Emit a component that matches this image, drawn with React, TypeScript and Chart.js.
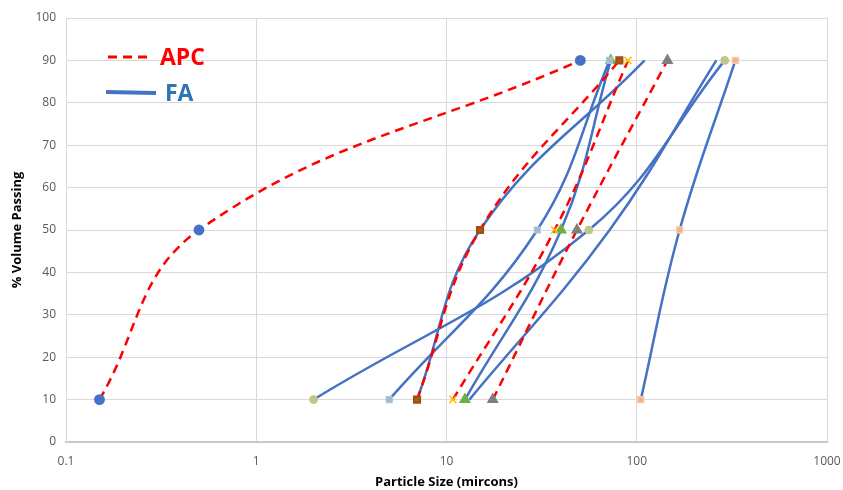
import React, { useEffect, useRef } from "react";
import { Chart, registerables } from "chart.js";
Chart.register(...registerables);

// % volume passing levels (D10, D50, D90)
const passing = [10, 50, 90];
const xTickValues = [0.1, 1, 10, 100, 1000];

// APC (red dashed) series – particle size in microns
const apcCircle = [0.15, 0.5, 50.5];
const apcSquare = [7.0, 15.0, 81];
const apcCross = [10.8, 37, 90];
const apcTriangle = [17.5, 48.5, 145];

// FA (blue solid) series – particle size in microns
const faCircle = [2.0, 56, 290];
const faSquare = [5.0, 30, 72];
const faPlain1 = [7.0, 15.0, 110];
const faTriangle = [12.5, 40, 73];
const faPlain2 = [13.2, 72, 262];
const faPink = [105, 168, 330];

const RED = "#FF0000";
const BLUE = "#4472C4";

export default function App() {
  const ref = useRef<HTMLCanvasElement>(null);

  useEffect(() => {
    if (!ref.current) return;
    const pts = (xs: number[]) => xs.map((x, i) => ({ x, y: passing[i] }));
    const red = (xs: number[], marker: any) => ({
      data: pts(xs),
      showLine: true,
      borderColor: RED,
      borderWidth: 2.5,
      borderDash: [9, 6],
      tension: 0.4,
      ...marker,
    });
    const blue = (xs: number[], marker: any) => ({
      data: pts(xs),
      showLine: true,
      borderColor: BLUE,
      borderWidth: 2.5,
      tension: 0.4,
      ...marker,
    });

    const legendPlugin = {
      id: "customLegend",
      afterDatasetsDraw(chart: any) {
        const ctx = chart.ctx;
        ctx.save();
        ctx.strokeStyle = RED;
        ctx.lineWidth = 3;
        ctx.setLineDash([9, 6]);
        ctx.beginPath();
        ctx.moveTo(108, 57);
        ctx.lineTo(150, 57);
        ctx.stroke();
        ctx.setLineDash([]);
        ctx.strokeStyle = BLUE;
        ctx.lineWidth = 4;
        ctx.beginPath();
        ctx.moveTo(106, 92);
        ctx.lineTo(156, 93);
        ctx.stroke();
        ctx.font = "bold 23px 'Open Sans', sans-serif";
        ctx.textBaseline = "middle";
        ctx.fillStyle = RED;
        ctx.fillText("APC", 160, 58);
        ctx.fillStyle = "#2E75B6";
        ctx.fillText("FA", 165, 94);
        ctx.restore();
      },
    };

    const tickFont = { family: "'Open Sans', sans-serif", size: 12 };
    const titleFont = { family: "'Open Sans', sans-serif", size: 13, weight: "bold" as const };

    const chart = new Chart(ref.current, {
      type: "scatter",
      data: {
        datasets: [
          red(apcCircle, { pointStyle: "circle", pointRadius: 4.2, pointBackgroundColor: BLUE, pointBorderColor: BLUE }),
          red(apcSquare, { pointStyle: "rect", pointRadius: 4, pointBackgroundColor: "#B45A1A", pointBorderColor: "#A0500F" }),
          red(apcCross, { pointStyle: "crossRot", pointRadius: 5, pointBorderColor: "#FFC000", pointBorderWidth: 1.5 }),
          red(apcTriangle, { pointStyle: "triangle", pointRadius: 4.5, pointBackgroundColor: "#7F7F7F", pointBorderColor: "#7F7F7F" }),
          blue(faCircle, { pointStyle: "circle", pointRadius: 4, pointBackgroundColor: "#A9D18E", pointBorderColor: "#F4B183", pointBorderWidth: 1 }),
          blue(faSquare, { pointStyle: "rect", pointRadius: 4, pointBackgroundColor: "#B4B4B4", pointBorderColor: "#9DC3E6", pointBorderWidth: 1.5 }),
          blue(faTriangle, { pointStyle: "triangle", pointRadius: 4.5, pointBackgroundColor: "#70AD47", pointBorderColor: "#70AD47" }),
          blue(faPink, { pointStyle: "rect", pointRadius: 4.2, pointBackgroundColor: "#F4B183", pointBorderColor: "#F8CBAD", pointBorderWidth: 1.5 }),
          blue(faPlain1, { pointRadius: 0 }),
          blue(faPlain2, { pointRadius: 0 }),
        ],
      },
      options: {
        animation: false,
        responsive: false,
        layout: { padding: { left: 0, right: 16, top: 18, bottom: 0 } },
        plugins: { legend: { display: false }, tooltip: { enabled: false } },
        scales: {
          x: {
            type: "logarithmic",
            min: 0.1,
            max: 1000,
            afterBuildTicks: (s: any) => {
              s.ticks = xTickValues.map((v) => ({ value: v }));
            },
            afterFit: (s: any) => {
              s.height = 48;
              s.paddingLeft = 0;
              s.paddingRight = 0;
            },
            ticks: {
              callback: (v: any) => String(v),
              color: "#595959",
              font: tickFont,
              padding: 12,
              maxRotation: 0,
              autoSkip: false,
            },
            grid: { color: "#D9D9D9", lineWidth: 1, drawTicks: false },
            border: { color: "#C8C8C8", width: 2 },
            title: {
              display: true,
              text: "Particle Size (mircons)",
              color: "#000000",
              font: titleFont,
              padding: { top: 0, bottom: 0 },
            },
          },
          y: {
            min: 0,
            max: 100,
            afterFit: (s: any) => {
              s.width = 66;
              s.paddingTop = 0;
              s.paddingBottom = 0;
            },
            ticks: {
              stepSize: 10,
              color: "#595959",
              font: tickFont,
              padding: 10,
            },
            grid: { color: "#D9D9D9", lineWidth: 1, drawTicks: false },
            border: { color: "#D9D9D9", width: 1 },
            title: {
              display: true,
              text: "% Volume Passing",
              color: "#000000",
              font: titleFont,
              padding: { top: 9, bottom: 0 },
            },
          },
        },
      },
      plugins: [legendPlugin],
    });
    return () => chart.destroy();
  }, []);

  return (
    <div style={{ position: "fixed", left: 0, top: 0, width: 843, height: 490, background: "#fff" }}>
      <canvas ref={ref} width={843} height={490} />
    </div>
  );
}
